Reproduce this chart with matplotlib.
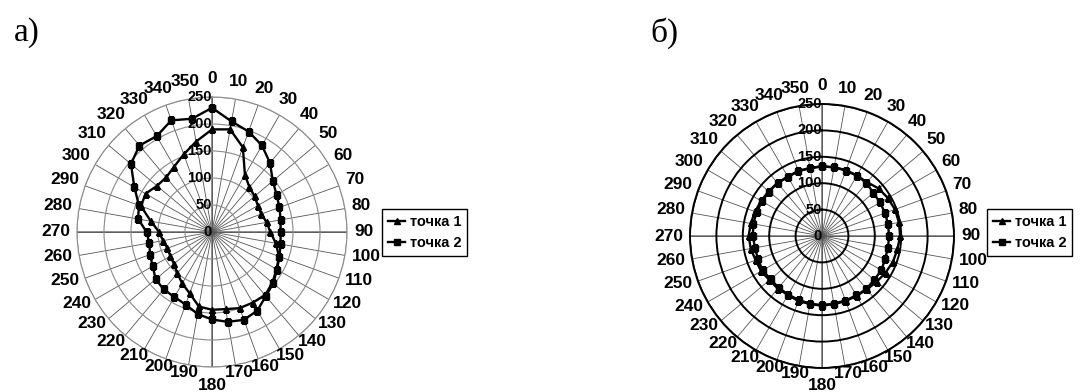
import numpy as np
import matplotlib
matplotlib.use("Agg")
import matplotlib.pyplot as plt

plt.rcParams['font.family'] = ['Liberation Sans', 'DejaVu Sans']
plt.rcParams['font.weight'] = 'bold'

# angles in degrees (compass style, clockwise from top)
angles = np.arange(0, 360, 10)
r_ticks = [50, 100, 150, 200, 250]

# chart a)
a_point1 = [190, 193, 167, 122, 108, 103, 98, 97, 103, 108, 120, 132, 138, 146, 153, 151, 150, 145,
            144, 140, 121, 110, 100, 92, 89, 88, 92, 98, 115, 140, 142, 133, 132, 140, 153, 170]
a_point2 = [230, 208, 198, 185, 167, 147, 138, 133, 129, 127, 129, 133, 139, 148, 155, 168, 173, 169,
            162, 154, 143, 139, 139, 136, 127, 122, 118, 121, 139, 144, 166, 196, 209, 205, 220, 213]

# chart b)
b_point1 = [132, 132, 133, 132, 133, 140, 144, 147, 148, 148, 145, 143, 139, 135, 132, 131, 131, 131,
            132, 131, 131, 129, 130, 130, 133, 134, 137, 139, 137, 135, 133, 132, 131, 130, 131, 131]
b_point2 = [132, 132, 132, 132, 131, 127, 127, 127, 127, 127, 127, 127, 130, 129, 131, 130, 130, 130,
            131, 130, 129, 128, 128, 127, 130, 129, 129, 131, 132, 132, 131, 131, 131, 129, 131, 130]

labels = ['точка 1', 'точка 2']

W, H = 1081, 392
fig = plt.figure(figsize=(W / 100, H / 100), dpi=100)
PT = 0.72  # points per pixel at dpi 100


def polar_panel(cx, cy, rad, s1, s2, ring_color, ring_lw, spoke_color):
    ax = fig.add_axes([(cx - rad) / W, (H - cy - rad) / H, 2 * rad / W, 2 * rad / H],
                      projection='polar')
    ax.set_theta_zero_location('N')
    ax.set_theta_direction(-1)
    ax.set_ylim(0, 250)
    ax.set_thetagrids(angles, [''] * len(angles))
    ax.set_rgrids(r_ticks, [''] * len(r_ticks))
    ax.yaxis.grid(True, color=ring_color, lw=ring_lw)
    ax.xaxis.grid(True, color=spoke_color, lw=0.6)
    ax.spines['polar'].set_color(ring_color)
    ax.spines['polar'].set_linewidth(ring_lw)
    # main axes lines
    for a in [0, 90, 180, 270]:
        ax.plot([np.deg2rad(a)] * 2, [0, 250], color='#8c8c8c', lw=1.4, zorder=1)
    th = np.deg2rad(np.append(angles, angles[0]))
    ax.plot(th, np.append(s1, s1[0]), color='black', lw=1.7, marker='^', ms=4.5, label=labels[0], zorder=3)
    ax.plot(th, np.append(s2, s2[0]), color='black', lw=1.7, marker='s', ms=4.5, label=labels[1], zorder=3)
    # radial labels along the 0 axis
    for r in [0] + r_ticks:
        ax.annotate(str(r), (0, r), xytext=(0, 0), textcoords='offset points',
                    ha='right', va='center', fontsize=10.5, fontweight='bold', zorder=4)
    # angle labels, placed like a spreadsheet radar chart
    for a in angles:
        s, c = np.sin(np.deg2rad(a)), np.cos(np.deg2rad(a))
        w = len(str(a)) * 9.7
        dx = s * 7 + s * w / 2
        dy = c * 7 + c * 6 + 5 * abs(c)
        if a == 180:
            dy -= 10
        ax.annotate(str(a), (np.deg2rad(a), 250), xytext=(dx * PT, dy * PT),
                    textcoords='offset points', ha='center', va='center',
                    fontsize=12.5, fontweight='bold', annotation_clip=False)
    return ax


ax1 = polar_panel(212, 232, 135, a_point1, a_point2, '#8a8a8a', 0.8, '#555555')
ax2 = polar_panel(822, 236, 132, b_point1, b_point2, 'black', 1.4, '#555555')

for ax, x0 in [(ax1, 382), (ax2, 987)]:
    fig.legend(*ax.get_legend_handles_labels(), loc='upper left',
               bbox_to_anchor=(x0 / W, 1 - 209 / H), fancybox=False, framealpha=1,
               edgecolor='black', fontsize=10.5, handlelength=1.2, handletextpad=0.3,
               borderpad=0.4, labelspacing=0.5, borderaxespad=0)

fig.text(14 / W, 1 - 33 / H, 'а)', family='Liberation Serif', fontweight='normal', fontsize=24, va='center')
fig.text(650 / W, 1 - 33 / H, 'б)', family='Liberation Serif', fontweight='normal', fontsize=24, va='center')

fig.savefig('out.png', dpi=100)
